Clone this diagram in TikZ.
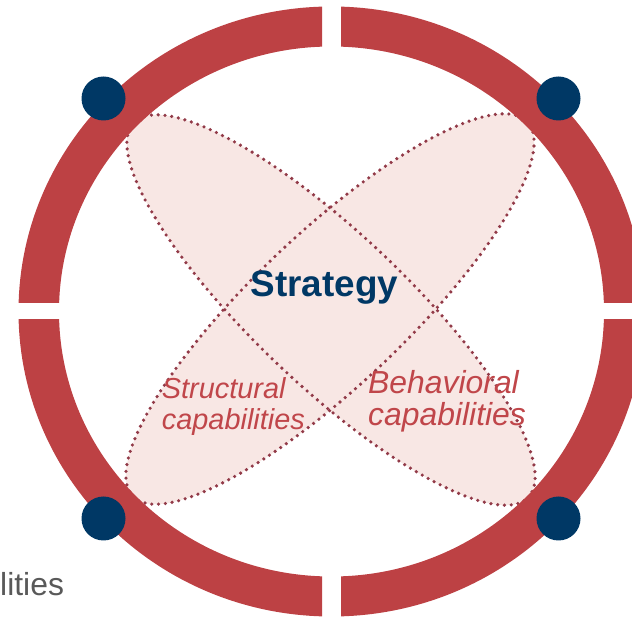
\documentclass[tikz,border=0pt]{standalone}
\usepackage{fontspec}
\setmainfont{Liberation Sans}
\definecolor{ringred}{RGB}{189,65,68}
\definecolor{dotnavy}{RGB}{0,56,101}
\definecolor{petalfill}{RGB}{248,231,228}
\definecolor{petalline}{RGB}{146,58,72}
\definecolor{captext}{RGB}{192,70,74}
\definecolor{greytext}{RGB}{89,89,89}
\begin{document}
\begin{tikzpicture}[
  petal/.style={fill=petalfill},
  petalborder/.style={draw=petalline,line width=3.6bp,line cap=round,dash pattern=on 0bp off 6.8bp},
  ringarc/.style={fill=ringred,even odd rule},
  corner/.style={circle,fill=dotnavy,minimum size=44bp,inner sep=0pt},
  caplabel/.style={text=captext,align=left,inner sep=0pt,anchor=base west},
]
  \useasboundingbox (0bp,0bp) rectangle (632bp,617bp);
  \clip (0bp,0bp) rectangle (632bp,617bp);
%%
  % Petals: fill first, borders after
  \fill[petal,rotate around={43.5:(330bp,308bp)}] (330bp,308bp) ellipse (272bp and 76bp);
  \fill[petal,rotate around={-43.5:(331bp,307bp)}] (331bp,307bp) ellipse (272bp and 76bp);
  % Petal: structural (NE-SW)
  \draw[petalborder,rotate around={43.5:(330bp,308bp)}] (330bp,308bp) ellipse (272bp and 76bp);
  % Petal: behavioral (NW-SE)
  \draw[petalborder,rotate around={-43.5:(331bp,307bp)}] (331bp,307bp) ellipse (272bp and 76bp);
%%
  % Ring: upper left
\begin{scope}
  \clip (0bp,314bp) rectangle (322bp,617bp);
  \fill[ringarc] (331.5bp,305.5bp) ellipse (313bp and 305bp) (331.5bp,305.5bp) ellipse (272.5bp and 265bp);
\end{scope}
  % Ring: upper right
\begin{scope}
  \clip (341bp,314bp) rectangle (632bp,617bp);
  \fill[ringarc] (331.5bp,305.5bp) ellipse (313bp and 305bp) (331.5bp,305.5bp) ellipse (272.5bp and 265bp);
\end{scope}
  % Ring: lower left
\begin{scope}
  \clip (0bp,0bp) rectangle (322bp,297bp);
  \fill[ringarc] (331.5bp,305.5bp) ellipse (313bp and 305bp) (331.5bp,305.5bp) ellipse (272.5bp and 265bp);
\end{scope}
  % Ring: lower right
\begin{scope}
  \clip (341bp,0bp) rectangle (632bp,297bp);
  \fill[ringarc] (331.5bp,305.5bp) ellipse (313bp and 305bp) (331.5bp,305.5bp) ellipse (272.5bp and 265bp);
\end{scope}
%%
  % Node: corner dots
  \node[corner] (dotNW) at (103.5bp,518.5bp) {};
  \node[corner] (dotNE) at (558.5bp,518.5bp) {};
  \node[corner] (dotSW) at (103.5bp,98.5bp) {};
  \node[corner] (dotSE) at (558.5bp,98.5bp) {};
  % Node: Strategy
  \node[text=dotnavy,font=\bfseries\fontsize{37}{44}\selectfont,inner sep=0pt,anchor=base] (strategy) at (324.4bp,320.3bp) {Strategy};
  % Node: Structural capabilities (base = last line)
  \node[caplabel,font=\itshape\fontsize{29}{32}\selectfont] (structural) at (161.7bp,187bp) {Structural\\capabilities};
  % Node: Behavioral capabilities
  \node[caplabel,font=\itshape\fontsize{32}{33}\selectfont] (behavioral) at (368bp,191bp) {Behavioral\\capabilities};
  % Node: lities
  \node[text=greytext,font=\fontsize{32}{38}\selectfont,inner sep=0pt,anchor=base west] (lities) at (0bp,22bp) {lities};
%
\end{tikzpicture}
\end{document}
